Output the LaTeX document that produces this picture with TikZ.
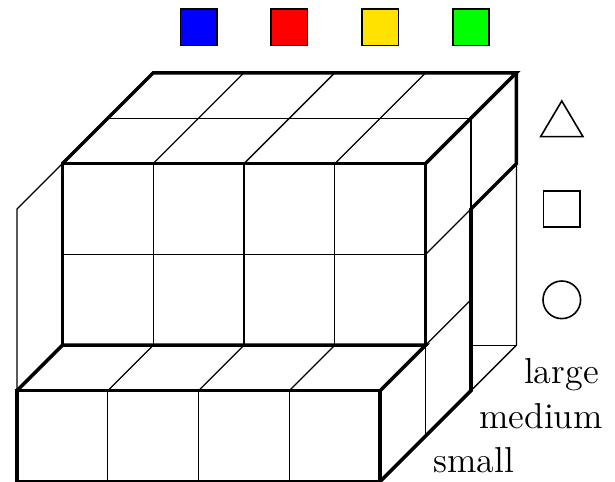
\documentclass[tikz,border=0pt]{standalone}
\usepackage{tikz}
\definecolor{cubeyellow}{RGB}{255,226,0}
\definecolor{cubegreen}{RGB}{0,255,0}
\begin{document}
\begin{tikzpicture}[x={(1cm,0cm)}, y={(0cm,1cm)}, z={(0.5cm,0.5cm)},
  thk/.style={line width=1.1pt},
  thn/.style={line width=0.4pt},
  swatch/.style={draw, line width=0.5pt, minimum size=0.4cm, inner sep=0pt},
  lbl/.style={anchor=base west, inner sep=0pt, font=\fontsize{11.3}{13.5}\selectfont}]
\useasboundingbox (-0.187,-0.006) rectangle (6.586,5.302);
% ---- thin lines ----
\foreach \i in {1,2,3} {
  \draw[thn] (\i,0,0) -- (\i,1,0);
  \draw[thn] (\i,1,0) -- (\i,1,1);
  \draw[thn] (\i,1,1) -- (\i,3,1);
  \draw[thn] (\i,3,1) -- (\i,3,3);
}
\draw[thn] (4,0,1) -- (4,1,1);
\draw[thn] (0,2,1) -- (4,2,1);
\draw[thn] (0,3,2) -- (4,3,2);
\draw[thn] (4,1,1) -- (4,1,2);
\draw[thn] (4,2,1) -- (4,2,2);
\draw[thn] (4,2,2) -- (4,3,2);
% bounding outline
\draw[thn] (0,1,0) -- (0,3,0) -- (0,3,1);
\draw[thn] (4,2,3) -- (4,0,3) -- (4,0,2);
\draw[thn] (4,0,3) -- (3.5,0,3);
% ---- thick lines ----
\draw[thk] (0,0,0) -- (0,1,0) -- (4,1,0) -- (4,0,0) -- cycle;
\draw[thk] (0,1,0) -- (0,1,1) -- (4,1,1) -- (4,1,0);
\draw[thk] (4,0,0) -- (4,0,2) -- (4,2,2) -- (4,2,3) -- (4,3,3);
\draw[thk] (0,1,1) -- (0,3,1) -- (4,3,1) -- (4,1,1);
\draw[thk] (0,3,1) -- (0,3,3) -- (4,3,3) -- (4,3,1);
% ---- colour swatches ----
\node[swatch, fill=blue] (sblue) at (2,5) {};
\node[swatch, fill=red] (sred) at (3,5) {};
\node[swatch, fill=cubeyellow] (syellow) at (4,5) {};
\node[swatch, fill=cubegreen] (sgreen) at (5,5) {};
% ---- shapes ----
\draw[line width=0.5pt] (6,4.19) -- (6.233,3.797) -- (5.767,3.797) -- cycle;
\draw[line width=0.5pt] (5.8,2.8) rectangle (6.2,3.2);
\draw[line width=0.5pt] (6,2) circle (0.207);
% ---- labels ----
\node[lbl] (lsmall) at (4.58,0.095) {small};
\node[lbl] (lmedium) at (5.085,0.58) {medium};
\node[lbl] (llarge) at (5.578,1.075) {large};
\end{tikzpicture}
\end{document}
